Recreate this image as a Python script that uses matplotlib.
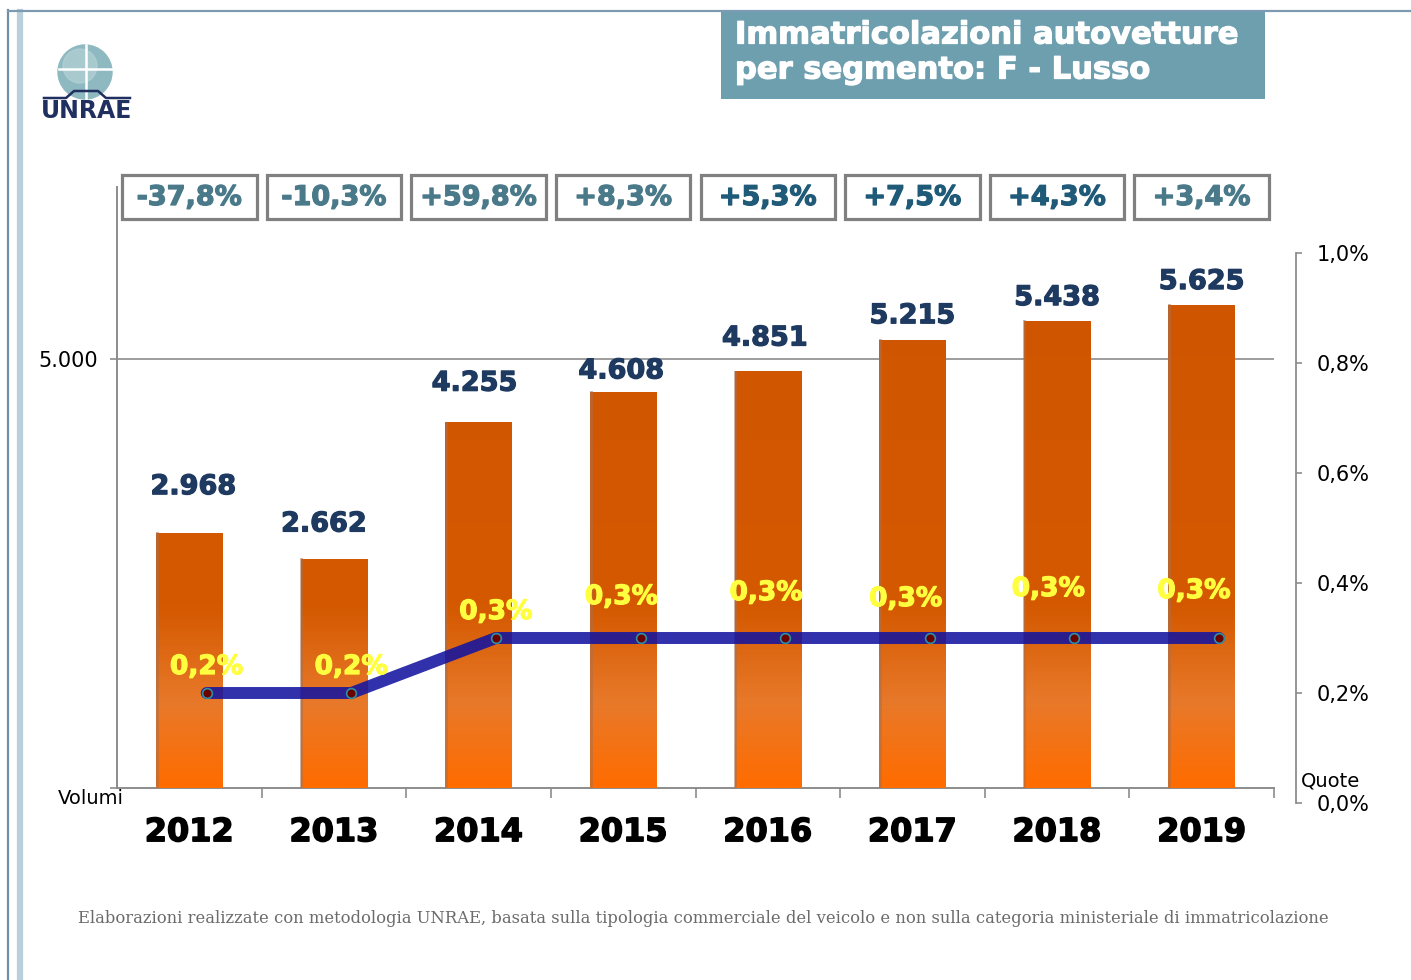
import numpy as np
import matplotlib
matplotlib.use("Agg")
import matplotlib.pyplot as plt
import matplotlib.patheffects as pe
from matplotlib.colors import LinearSegmentedColormap
from matplotlib.patches import Rectangle, Circle
from matplotlib.lines import Line2D
from matplotlib.transforms import blended_transform_factory

plt.rcParams["font.family"] = ["DejaVu Sans"]

# data
years = ["2012", "2013", "2014", "2015", "2016", "2017", "2018", "2019"]
volumes = [2968, 2662, 4255, 4608, 4851, 5215, 5438, 5625]
volume_labels = ["2.968", "2.662", "4.255", "4.608", "4.851", "5.215", "5.438", "5.625"]
share = [0.2, 0.2, 0.3, 0.3, 0.3, 0.3, 0.3, 0.3]
share_labels = ["0,2%", "0,2%", "0,3%", "0,3%", "0,3%", "0,3%", "0,3%", "0,3%"]
changes = ["-37,8%", "-10,3%", "+59,8%", "+8,3%", "+5,3%", "+7,5%", "+4,3%", "+3,4%"]
share_ticks = [0.0, 0.2, 0.4, 0.6, 0.8, 1.0]
share_tick_labels = ["0,0%", "0,2%", "0,4%", "0,6%", "0,8%", "1,0%"]

# label placement tweaks (pixels)
vol_dx = [4, -10, -4, -2, -3, 0, 0, 0]
vol_dy = [46, 35, 39, 21, 33, 24, 23, 23]
shr_dx = [0, 0, 0, -19, -19, -24, -26, -25]
shr_dy = [26, 26, 26, 41, 45, 39, 49, 47]
box_colors = ["#4a7a8a", "#4a7a8a", "#4a7a8a", "#4a7a8a", "#1f5a78", "#1f5a78", "#1f5a78", "#4a7a8a"]

W, H = 1411, 980
fig = plt.figure(figsize=(W / 100, H / 100), dpi=100)

def fx(px):
    return px / W

def fy(py):
    return 1 - py / H

def heavy(color, w=0.9):
    return dict(family="DejaVu Sans", fontweight="bold",
                path_effects=[pe.withStroke(linewidth=w, foreground=color)])

# page frame
fig.add_artist(Line2D([fx(8), fx(8)], [0, fy(10)], color="#6f8fa8", lw=1.6))
fig.add_artist(Line2D([fx(20), fx(20)], [0, fy(12)], color="#b9cfdb", lw=4.5))
fig.add_artist(Line2D([fx(8), 1], [fy(11), fy(11)], color="#7d9bb0", lw=1.6))

# title box
fig.add_artist(Rectangle((fx(721), fy(99)), fx(1265) - fx(721), fy(12) - fy(99),
                         transform=fig.transFigure, facecolor="#6e9faf", edgecolor="none"))
fig.text(fx(735), fy(35), "Immatricolazioni autovetture", color="white",
         fontsize=22, va="center", ha="left", **heavy("white"))
fig.text(fx(735), fy(70), "per segmento: F - Lusso", color="white",
         fontsize=22, va="center", ha="left", **heavy("white"))

# logo
lax = fig.add_axes([fx(42), fy(122), fx(90), fy(44) - fy(122)])
lax.set_xlim(0, 90)
lax.set_ylim(0, 78)
lax.axis("off")
lax.add_patch(Circle((43, 50), 27, color="#8fb9c1"))
lax.add_patch(Circle((38, 56), 17, color="#b4d2d6", alpha=0.7))
lax.plot([44, 44], [23, 77], color="white", lw=1.8)
lax.plot([17, 70], [53, 53], color="white", lw=1.8)
lax.plot([2, 24, 32, 56, 64, 88], [24, 24, 31, 31, 24, 24], color="#1f2f5f", lw=1.8)
lax.text(45, 11, "UNRAE", color="#1f2f5f", fontsize=17, ha="center", va="center",
         family="DejaVu Sans", fontweight="bold")

# main axes
ax = fig.add_axes([fx(117), fy(788), fx(1274) - fx(117), fy(187) - fy(788)])
x = np.arange(len(years))
bw = 0.46
cmap = LinearSegmentedColormap.from_list("bar", [(0, "#ff6c00"), (0.14, "#e8792a"),
                                                 (0.30, "#d45900"), (1.0, "#cf5400")])
bars = ax.bar(x, volumes, width=bw, color="#d45900", zorder=2)
for b, v in zip(bars, volumes):
    vals = np.linspace(v, 0, 200).reshape(-1, 1)
    ax.imshow(vals, extent=[b.get_x(), b.get_x() + bw, 0, v], aspect="auto",
              cmap=cmap, vmin=0, vmax=7000, zorder=3, interpolation="bilinear")
    ax.plot([b.get_x() + 0.004, b.get_x() + 0.004], [0, v], color="#a8704f", lw=2,
            alpha=0.6, zorder=4)

for i in range(len(years)):
    ax.annotate(volume_labels[i], xy=(x[i], volumes[i]), xytext=(vol_dx[i], vol_dy[i]),
                textcoords="offset pixels", ha="center", va="center",
                fontsize=19.5, color="#1f3a60", zorder=6, **heavy("#1f3a60"))

ax.set_xlim(-0.5, len(years) - 0.5)
ax.set_ylim(0, 7000)
ax.axhline(5000, color="#8c8c8c", lw=1.2, zorder=1)
for s in ["top", "right"]:
    ax.spines[s].set_visible(False)
for s in ["left", "bottom"]:
    ax.spines[s].set_color("#8c8c8c")
    ax.spines[s].set_linewidth(1.4)
ax.set_yticks([0, 5000])
ax.set_yticklabels(["", "5.000"], fontsize=15)
ax.tick_params(axis="y", length=5, color="#8c8c8c", width=1.2, pad=9)
ax.set_xticks(np.arange(len(years)) + 0.5)
ax.set_xticklabels([])
ax.tick_params(axis="x", which="major", length=7, color="#8c8c8c", width=1.2)
ax.set_xticks(x, minor=True)
ax.set_xticklabels(years, minor=True, fontsize=23, **heavy("black", 1.1))
ax.tick_params(axis="x", which="minor", length=0, pad=21)
ax.patch.set_alpha(0)
fig.text(fx(91), fy(798), "Volumi", fontsize=14, ha="center", va="center")

# change boxes
tr = blended_transform_factory(ax.transData, fig.transFigure)
for i in range(len(years)):
    fig.add_artist(Rectangle((x[i] - 0.465, fy(219)), 0.93, fy(175) - fy(219), transform=tr,
                             facecolor="white", edgecolor="#808080", lw=2.3))
    fig.text(x[i], fy(198), changes[i], transform=tr, ha="center", va="center",
             fontsize=19.5, color=box_colors[i], **heavy(box_colors[i]))

# share axes
ax2 = fig.add_axes([fx(117), fy(803), fx(1274) - fx(117), fy(253) - fy(803)])
ax2.patch.set_alpha(0)
ax2.set_xlim(-0.5, len(years) - 0.5)
ax2.set_ylim(0, 1.0)
xs = x + 0.12
ax2.plot(xs, share, color="#1414a0", alpha=0.88, lw=8.6, solid_capstyle="round",
         solid_joinstyle="round", zorder=3)
ax2.plot(xs, share, linestyle="none", marker="o", ms=7, mfc="#6b0000", mec="#2e8fa0",
         mew=1.2, zorder=4)
for i in range(len(years)):
    ax2.annotate(share_labels[i], xy=(xs[i], share[i]), xytext=(shr_dx[i], shr_dy[i]),
                 textcoords="offset pixels", ha="center", va="center",
                 fontsize=19, color="#ffff40", zorder=6, **heavy("#ffff40"))
for s in ["top", "left", "bottom"]:
    ax2.spines[s].set_visible(False)
ax2.spines["right"].set_position(("outward", 16))
ax2.spines["right"].set_color("#8c8c8c")
ax2.spines["right"].set_linewidth(1.3)
ax2.set_xticks([])
ax2.yaxis.tick_right()
ax2.set_yticks(share_ticks)
ax2.set_yticklabels(share_tick_labels, fontsize=15)
ax2.tick_params(axis="y", length=4.5, color="#8c8c8c", width=1.2, pad=10)
fig.text(fx(1331), fy(781), "Quote", fontsize=14, ha="center", va="center")

# footer
fig.text(fx(703), fy(918), "Elaborazioni realizzate con metodologia UNRAE, basata sulla tipologia "
         "commerciale del veicolo e non sulla categoria ministeriale di immatricolazione",
         family="DejaVu Serif", fontsize=11.8, color="#6b6b6b", ha="center", va="center")

fig.savefig("out.png", dpi=100)
